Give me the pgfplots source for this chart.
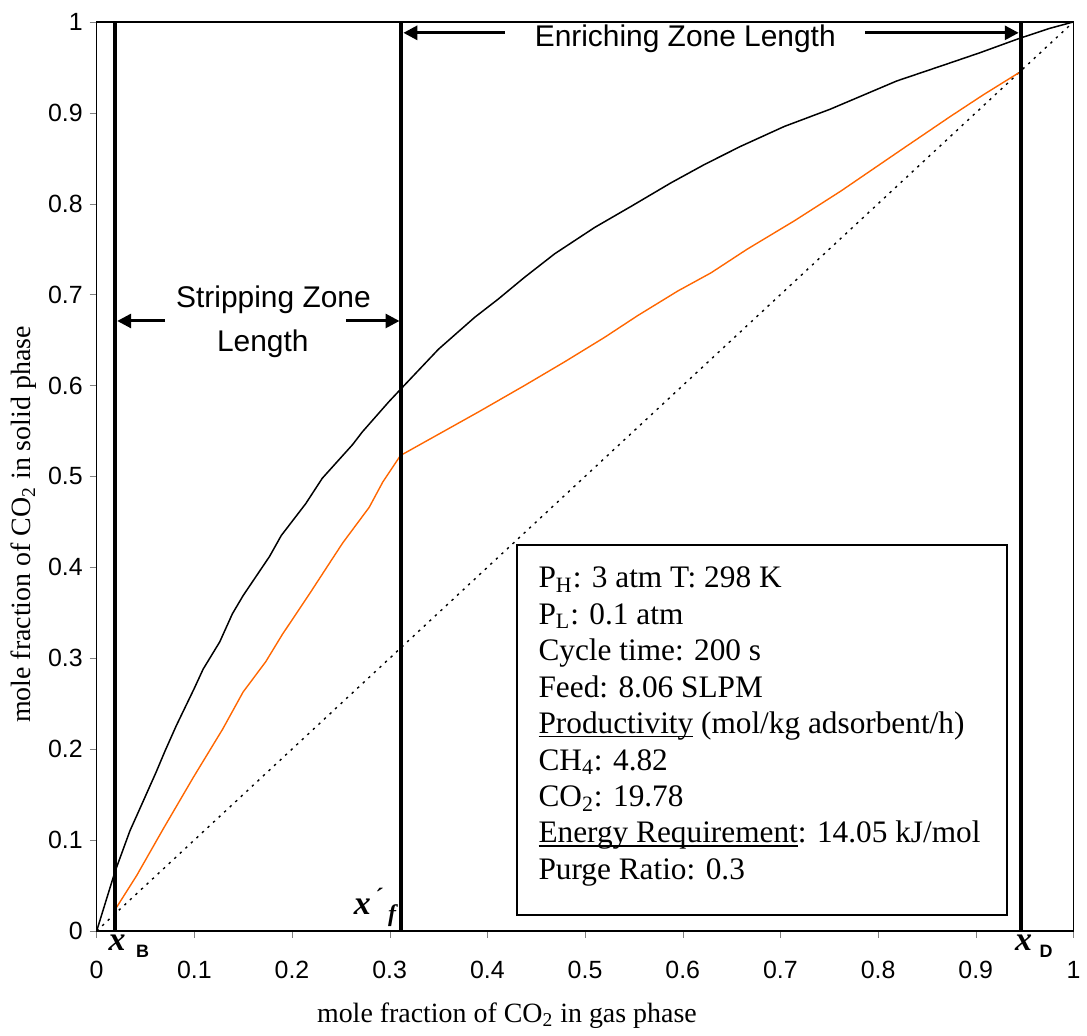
\documentclass[border=0pt]{standalone}
\usepackage{fontspec}
\setmainfont{Liberation Serif}
\setsansfont{Liberation Sans}
\usepackage{pgfplots}
\pgfplotsset{compat=1.18}
\usetikzlibrary{arrows.meta}
\definecolor{opline}{HTML}{FF6600}
\newcommand\ul[1]{\setbox0\hbox{#1}\rlap{\rule[-1.9pt]{\wd0}{0.75pt}}#1}

\pgfplotstableread{
x y
0 0
0.0187 0.065
0.034 0.110
0.044 0.134
0.061 0.175
0.070 0.198
0.0816 0.226
0.100 0.267
0.109 0.288
0.126 0.318
0.139 0.349
0.150 0.369
0.177 0.412
0.189 0.435
0.214 0.470
0.231 0.498
0.262 0.535
0.272 0.549
0.299 0.582
0.313 0.598
0.350 0.640
0.387 0.675
0.411 0.695
0.438 0.719
0.469 0.745
0.510 0.774
0.547 0.797
0.588 0.823
0.622 0.843
0.659 0.863
0.704 0.885
0.751 0.904
0.819 0.935
0.874 0.955
0.904 0.966
0.945 0.982
0.976 0.993
1.0 1.0
}\equil

\pgfplotstableread{
x y
0.0204 0.026
0.041 0.061
0.068 0.112
0.099 0.169
0.129 0.222
0.150 0.263
0.173 0.296
0.190 0.326
0.218 0.371
0.238 0.404
0.252 0.427
0.279 0.466
0.293 0.494
0.311 0.523
0.336 0.538
0.391 0.571
0.438 0.600
0.479 0.626
0.520 0.653
0.554 0.677
0.595 0.704
0.629 0.724
0.666 0.750
0.714 0.781
0.762 0.814
0.826 0.861
0.874 0.896
0.908 0.920
0.944 0.944
}\oper

\begin{document}
\begin{tikzpicture}
\begin{axis}[
  scale only axis, width=490pt, height=456pt,
  xmin=0, xmax=1, ymin=0, ymax=1,
  xtick={0,0.1,...,1}, ytick={0,0.1,...,1},
  tick align=outside, major tick length=3.5pt,
  xtick pos=bottom, ytick pos=left,
  axis line style={line width=0.6pt},
  /pgf/number format/assume math mode=true,
  ticklabel style={font=\sffamily\fontsize{12.5}{14}\selectfont},
  xticklabel style={yshift=-8pt},
  xlabel={mole fraction of CO\textsubscript{2} in gas phase},
  ylabel={mole fraction of CO\textsubscript{2} in solid phase},
  label style={font=\fontsize{14}{16}\selectfont},
  xlabel style={at={(axis description cs:0.42,-0.1009)}, anchor=base},
  ylabel style={at={(axis description cs:-0.0745,0.447)}, anchor=center},
  clip=false,
]
\addplot[black, line width=0.7pt, dash pattern=on 1.2pt off 2.6pt] coordinates {(0,0) (1,1)};
\addplot[black, line width=0.75pt] table {\equil};
\addplot[opline, line width=0.7pt] table {\oper};
\addplot[black, line width=2pt] coordinates {(0.019,0) (0.019,1)};
\addplot[black, line width=2pt] coordinates {(0.312,0) (0.312,1)};
\addplot[black, line width=2pt] coordinates {(0.946,0) (0.946,1)};

% zone arrows
\draw[line width=1.5pt, -{Triangle[length=7pt,width=7pt]}] (axis cs:0.070,0.671) -- (axis cs:0.021,0.671);
\draw[line width=1.5pt, -{Triangle[length=7pt,width=7pt]}] (axis cs:0.255,0.671) -- (axis cs:0.310,0.671);
\draw[line width=1.5pt, -{Triangle[length=7pt,width=7pt]}] (axis cs:0.418,0.988) -- (axis cs:0.314,0.988);
\draw[line width=1.5pt, -{Triangle[length=7pt,width=7pt]}] (axis cs:0.787,0.988) -- (axis cs:0.944,0.988);
\node[font=\sffamily\fontsize{15}{18}\selectfont, anchor=base] at (axis cs:0.181,0.686) {Stripping Zone};
\node[font=\sffamily\fontsize{15}{18}\selectfont, anchor=base] at (axis cs:0.170,0.637) {Length};
\node[font=\sffamily\fontsize{15}{18}\selectfont, anchor=base] at (axis cs:0.6026,0.973) {Enriching Zone Length};

% point labels
\node[font=\bfseries\itshape\fontsize{17}{18}\selectfont, inner sep=0pt] at (axis cs:0.021,-0.013) {x};
\node[font=\sffamily\bfseries\fontsize{9}{10}\selectfont, inner sep=0pt] at (axis cs:0.047,-0.023) {B};
\node[font=\bfseries\itshape\fontsize{17}{18}\selectfont, inner sep=0pt] at (axis cs:0.949,-0.013) {x};
\node[font=\sffamily\bfseries\fontsize{9}{10}\selectfont, inner sep=0pt] at (axis cs:0.972,-0.023) {D};
\node[font=\bfseries\itshape\fontsize{17}{18}\selectfont, inner sep=0pt, anchor=south east] at (axis cs:0.307,0.004)
  {x\,\raisebox{0.35ex}{\fontsize{12}{12}\selectfont\'{}}\,\raisebox{-0.45ex}{\fontsize{12}{12}\selectfont f}};

% parameter box
\draw[line width=1pt] (axis cs:0.430,0.0175) rectangle (axis cs:0.932,0.425);
\node[anchor=north west, inner sep=0pt, align=left, font=\fontsize{15.7}{18.3}\selectfont] at (axis cs:0.452,0.401) {%
P\textsubscript{H}: 3 atm T: 298 K\\
P\textsubscript{L}: 0.1 atm\\
Cycle time: 200 s\\
Feed: 8.06 SLPM\\
\ul{Productivity} (mol/kg adsorbent/h)\\
CH\textsubscript{4}: 4.82\\
CO\textsubscript{2}: 19.78\\
\ul{Energy Requirement}: 14.05 kJ/mol\\
Purge Ratio: 0.3};

% page margins round the frame
\path (rel axis cs:0,1) ++(0,11pt);
\path (rel axis cs:0,0) ++(-48.5pt,0);
\path (rel axis cs:1,0) ++(5pt,0);
\end{axis}
\end{tikzpicture}
\end{document}
